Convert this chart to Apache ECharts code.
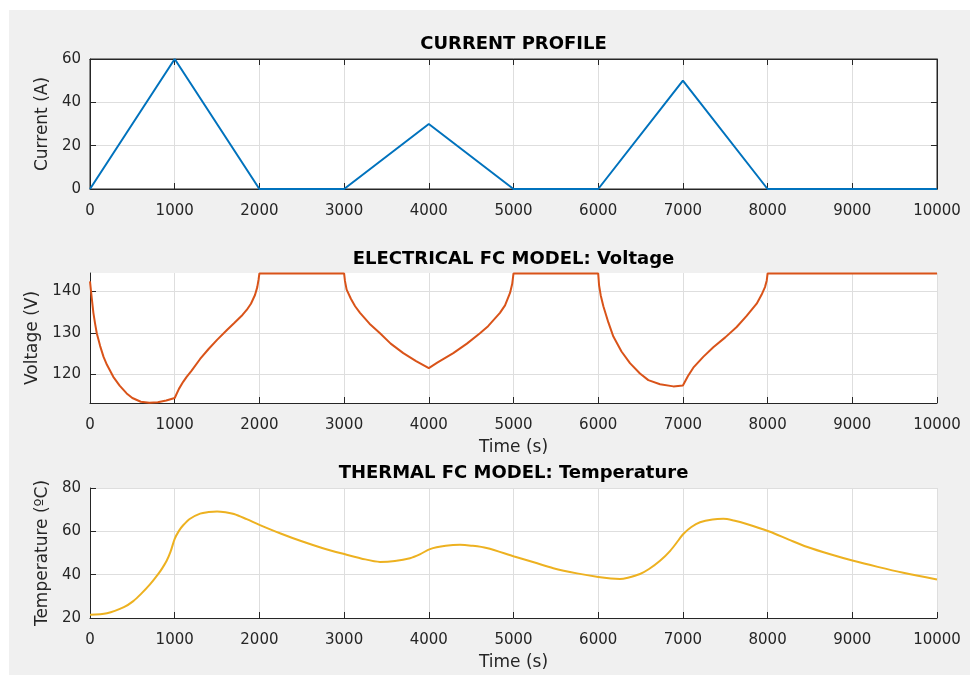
<!DOCTYPE html>
<html>
<head>
<meta charset="utf-8">
<script src="https://cdn.jsdelivr.net/npm/echarts@6/dist/echarts.min.js"></script>
<style>html,body{margin:0;padding:0;background:#fff}#c{width:970px;height:675px}</style>
</head>
<body>
<div id="c"></div>
<script>
// ---- data ----
const titles = ['CURRENT PROFILE', 'ELECTRICAL FC MODEL: Voltage', 'THERMAL FC MODEL: Temperature'];
const timeTicks = [0,1000,2000,3000,4000,5000,6000,7000,8000,9000,10000];
const currentTicks = [0,20,40,60];
const voltageTicks = [120,130,140];
const voltageRange = [113.1, 144.4];
const tempTicks = [20,40,60,80];

const currentTime = [0,1000,2000,3000,4000,5000,6000,7000,8000,10000];
const currentVals = [0,60,0,0,30,0,0,50,0,0];

const voltageTime = [0,20,40,60,80,120,160,200,275,350,433,500,600,700,800,900,1000,
  1050,1100,1141,1200,1300,1400,1500,1614,1700,1800,1850,1900,1948,1975,1990,2000,
  3000,3010,3030,3080,3130,3188,3300,3424,3550,3699,3850,4000,
  4100,4289,4450,4604,4700,4840,4900,4959,4985,5000,
  6000,6010,6030,6061,6120,6179,6275,6375,6493,6592,6730,6887,7000,
  7060,7123,7240,7359,7500,7635,7750,7871,7930,7969,7990,8000,10000];
const voltageVals = [142.4,138.5,134.8,132.2,129.9,126.8,124.2,122.3,119.4,117.3,115.4,114.3,113.4,113.15,113.3,113.7,114.3,
  116.5,118.2,119.4,120.9,123.7,126.1,128.3,130.6,132.3,134.3,135.5,137.0,139.1,141.0,142.8,144.3,
  144.3,142.5,140.4,138.2,136.4,134.8,132.2,129.9,127.4,125.1,123.2,121.5,
  122.8,125.1,127.4,129.9,131.6,134.8,136.6,139.6,141.8,144.3,
  144.3,141.5,139.0,136.4,132.5,129.1,125.5,122.7,120.2,118.6,117.6,117.1,117.3,
  119.6,121.6,124.2,126.5,128.9,131.4,134.0,137.0,139.2,141.0,142.6,144.3,144.3];

const tempTime = [0,200,400,511,600,708,800,850,905,950,1000,1050,1100,1181,1300,1400,1500,1600,1700,1850,2000,
  2250,2500,2750,3000,3200,3424,3600,3778,3900,4014,4200,4368,4500,4683,5009,5250,5470,5750,
  6001,6150,6257,6350,6494,6600,6730,6850,6950,7005,7100,7202,7350,7477,7600,7753,8020,8250,8461,
  8750,9012,9300,9602,10000];
const tempVals = [21.5,22.2,25.0,27.8,31.0,35.5,40.0,42.8,46.4,50.5,56.5,60.2,62.8,65.8,68.2,68.9,69.2,68.8,68.0,65.6,63.0,
  59.0,55.4,52.2,49.5,47.5,45.9,46.3,47.6,49.5,51.8,53.3,53.8,53.4,52.3,48.4,45.6,43.0,40.6,
  38.9,38.2,38.0,38.6,40.3,42.6,46.4,51.0,56.0,58.8,62.0,64.2,65.5,65.8,65.0,63.4,59.9,56.2,52.9,
  49.3,46.4,43.6,40.9,37.8];

const zip = (xs, ys) => xs.map((x, i) => [x, ys[i]]);

// ---- styling ----
const FONT = 'DejaVu Sans';
const AX = '#262626';
const GRIDC = '#dedede';
const grids = [
  {left: 90, right: 33, top: 59, height: 130},
  {left: 90, right: 33, top: 273, height: 130},
  {left: 90, right: 33, top: 488, height: 130}
];
const titleTops = [35, 250, 464];
const plain = v => String(v);

function xAxisFor(i, name) {
  return {
    type: 'value', gridIndex: i,
    min: timeTicks[0], max: timeTicks[timeTicks.length - 1], interval: timeTicks[1] - timeTicks[0],
    name: name || '', nameLocation: 'middle', nameGap: 36,
    nameTextStyle: {fontFamily: FONT, fontSize: 17, color: AX},
    axisLine: {show: true, onZero: false, lineStyle: {color: AX, width: 1}},
    axisTick: {show: true, inside: true, length: 6, lineStyle: {color: AX}},
    axisLabel: {fontFamily: FONT, fontSize: 15, color: AX, margin: 15, formatter: plain},
    splitLine: {show: true, lineStyle: {color: GRIDC, width: 1}}
  };
}
function yAxisFor(i, ticks, name, gap, extra) {
  const a = {
    type: 'value', gridIndex: i,
    min: ticks[0], max: ticks[ticks.length - 1], interval: ticks[1] - ticks[0],
    name: name, nameLocation: 'middle', nameGap: gap,
    nameTextStyle: {fontFamily: FONT, fontSize: 17, color: AX},
    axisLine: {show: true, onZero: false, lineStyle: {color: AX, width: 1}},
    axisTick: {show: true, inside: true, length: 6, lineStyle: {color: AX}},
    axisLabel: {fontFamily: FONT, fontSize: 15, color: AX, margin: 9, formatter: plain},
    splitLine: {show: true, lineStyle: {color: GRIDC, width: 1}}
  };
  return Object.assign(a, extra || {});
}

const chart = echarts.init(document.getElementById('c'), null, {renderer: 'canvas'});
chart.setOption({
  backgroundColor: '#ffffff',
  animation: false,
  graphic: {
    elements: [{type: 'rect', z: -100, silent: true, shape: {x: 9, y: 10, width: 961, height: 665}, style: {fill: '#f0f0f0'}}]
  },
  title: titles.map((t, i) => ({
    text: t, left: 513.5, top: titleTops[i], textAlign: 'center', padding: 0,
    textStyle: {fontFamily: FONT, fontSize: 18, fontWeight: 'bold', color: '#000'}
  })),
  grid: grids.map((g, i) => Object.assign({}, g, {
    show: true, backgroundColor: '#ffffff',
    borderWidth: i === 0 ? 1 : 0, borderColor: AX, containLabel: false
  })),
  xAxis: [
    xAxisFor(0),
    xAxisFor(1, 'Time (s)'),
    xAxisFor(2, 'Time (s)'),
    Object.assign(xAxisFor(0), {position: 'top', axisLabel: {show: false}, splitLine: {show: false}})
  ],
  yAxis: [
    yAxisFor(0, currentTicks, 'Current (A)', 38),
    yAxisFor(1, voltageTicks, 'Voltage (V)', 47, {
      min: voltageRange[0], max: voltageRange[1], interval: null, splitNumber: 3,
      axisLabel: {fontFamily: FONT, fontSize: 15, color: AX, margin: 9, customValues: voltageTicks, formatter: plain},
      axisTick: {show: true, inside: true, length: 6, lineStyle: {color: AX}, customValues: voltageTicks},
      splitLine: {show: true, lineStyle: {color: GRIDC, width: 1}}
    }),
    yAxisFor(2, tempTicks, 'Temperature (ºC)', 38),
    Object.assign(yAxisFor(0, currentTicks, '', 0), {position: 'right', axisLabel: {show: false}, splitLine: {show: false}})
  ],
  series: [
    {type: 'line', xAxisIndex: 0, yAxisIndex: 0, data: zip(currentTime, currentVals), showSymbol: false, symbol: 'none',
      lineStyle: {color: '#0072BD', width: 2}, itemStyle: {color: '#0072BD'}},
    {type: 'line', xAxisIndex: 1, yAxisIndex: 1, data: zip(voltageTime, voltageVals), showSymbol: false, symbol: 'none',
      lineStyle: {color: '#D95319', width: 2}, itemStyle: {color: '#D95319'}},
    {type: 'line', xAxisIndex: 2, yAxisIndex: 2, data: zip(tempTime, tempVals), showSymbol: false, symbol: 'none', smooth: 0.3,
      lineStyle: {color: '#EDB120', width: 2}, itemStyle: {color: '#EDB120'}}
  ]
});
</script>
</body>
</html>
